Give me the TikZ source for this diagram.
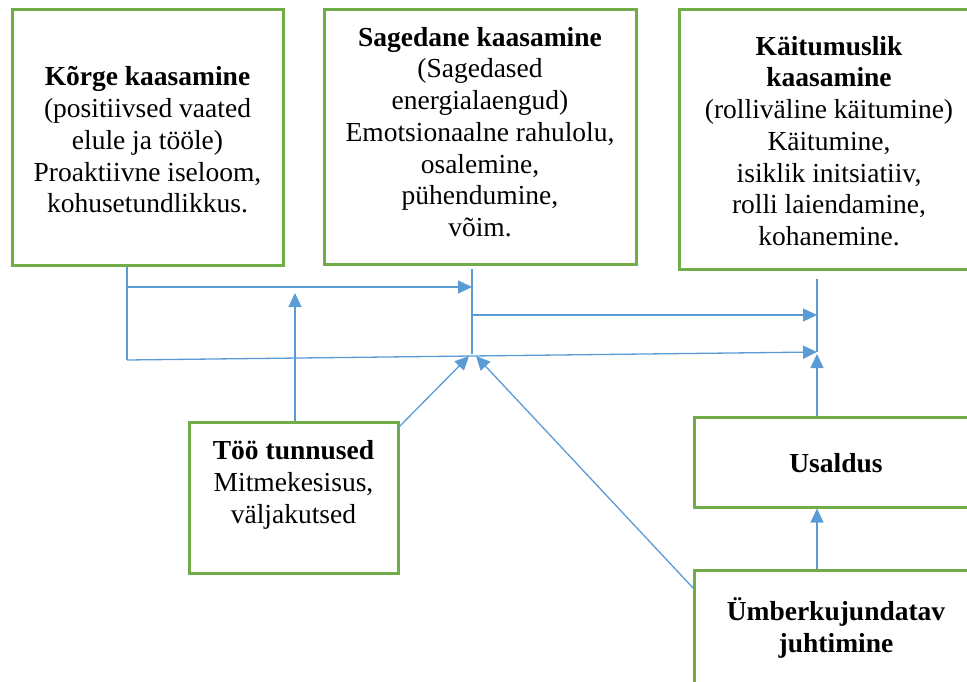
\documentclass[tikz,border=0pt]{standalone}
\usepackage{fontspec}
\setmainfont{Liberation Serif}
\usetikzlibrary{arrows.meta}
\definecolor{gbox}{HTML}{70AD47}
\definecolor{bline}{HTML}{5B9BD5}
\begin{document}
\begin{tikzpicture}[x=1pt,y=-1pt,
  box/.style={draw=gbox, line width=3pt, inner sep=0pt},
  txt/.style={align=center, inner sep=0pt, font=\fontsize{27.5}{31.7}\selectfont},
  conn/.style={draw=bline, line width=1.3pt},
  arr/.style={conn, -{Triangle[length=14pt,width=13pt]}}
]
\useasboundingbox (0,0) rectangle (967,682);
\clip (0,0) rectangle (967,682);
% boxes
\node[box, minimum width=271pt, minimum height=255pt] (b1) at (147.5,137.5) {};
\node[box, minimum width=312pt, minimum height=254pt] (b2) at (480,137) {};
\node[box, minimum width=300pt, minimum height=259pt] (b3) at (829,139.5) {};
\node[box, minimum width=209pt, minimum height=151pt] (b4) at (293.5,497.5) {};
\node[box, minimum width=284pt, minimum height=90pt] (b5) at (836,462) {};
\node[box, minimum width=284pt, minimum height=130pt] (b6) at (836,635) {};
% texts
\node[txt] (t1) at (147.5,140) {\textbf{Kõrge kaasamine}\\(positiivsed vaated\\elule ja tööle)\\Proaktiivne iseloom,\\kohusetundlikkus.};
\node[txt] (t2) at (480,132) {\textbf{Sagedane kaasamine}\\(Sagedased\\energialaengud)\\Emotsionaalne rahulolu,\\osalemine,\\pühendumine,\\võim.};
\node[txt] (t3) at (829,141) {\textbf{Käitumuslik}\\\textbf{kaasamine}\\(rolliväline käitumine)\\Käitumine,\\isiklik initsiatiiv,\\rolli laiendamine,\\kohanemine.};
\node[txt] (t4) at (293.5,485) {\textbf{Töö tunnused}\\Mitmekesisus,\\väljakutsed};
\node[txt] (t5) at (836,463) {\textbf{Usaldus}};
\node[txt] (t6) at (836,628) {\textbf{Ümberkujundatav}\\\textbf{juhtimine}};
% junction coordinates
\coordinate (lb) at (127,360);
\coordinate (lh) at (127,287);
\coordinate (mh) at (472,287);
\coordinate (mt) at (472,269);
\coordinate (mb) at (472,354);
\coordinate (mr) at (472,315);
\coordinate (rh) at (817,315);
\coordinate (rt) at (817,279);
\coordinate (rb) at (817,352);
\coordinate (tu) at (295,293);
\coordinate (td) at (469,356);
\coordinate (ud) at (476,356);
\coordinate (us) at (817,354);
\coordinate (ts) at (398,428);
\coordinate (uf) at (694,589);
% connectors
\draw[conn] (b1.south -| lb) -- (lb);
\draw[arr] (lh) -- (mh);
\draw[arr] (lb) -- (rb);
\draw[conn] (mt) -- (mb);
\draw[arr] (mr) -- (rh);
\draw[conn] (rt) -- (rb);
\draw[arr] (b4.north -| tu) -- (tu);
\draw[arr] (ts) -- (td);
\draw[arr] (uf) -- (ud);
\draw[arr] (b5.north -| us) -- (us);
\draw[arr] (b6.north -| us) -- (b5.south -| us);
\end{tikzpicture}
\end{document}
